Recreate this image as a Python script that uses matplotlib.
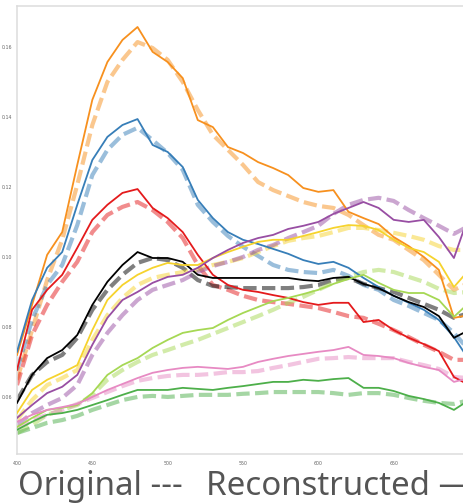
import matplotlib
matplotlib.use("Agg")
import matplotlib.pyplot as plt

# Wavelength samples (nm)
wavelength = [400, 410, 420, 430, 440, 450, 460, 470, 480, 490, 500, 510, 520, 530, 540,
              550, 560, 570, 580, 590, 600, 610, 620, 630, 640, 650, 660, 670, 680, 690, 700]

# Reflectance per patch: original (measured) and reconstructed spectra
orange_orig = [0.0649, 0.0791, 0.0934, 0.1049, 0.1206, 0.1377, 0.1500, 0.1563, 0.1614, 0.1597, 0.1563,
               0.1500, 0.1420, 0.1349, 0.1306, 0.1263, 0.1214, 0.1191, 0.1174, 0.1157, 0.1146, 0.1140,
               0.1120, 0.1091, 0.1063, 0.1049, 0.1020, 0.0991, 0.0949, 0.0906, 0.0926]
orange_rec = [0.0720, 0.0863, 0.1006, 0.1071, 0.1263, 0.1449, 0.1557, 0.1620, 0.1657, 0.1586, 0.1557,
              0.1511, 0.1391, 0.1371, 0.1314, 0.1297, 0.1271, 0.1254, 0.1234, 0.1197, 0.1186, 0.1191,
              0.1129, 0.1111, 0.1094, 0.1057, 0.1031, 0.1000, 0.0963, 0.0826, 0.0834]

blue_orig = [0.0677, 0.0820, 0.0920, 0.0977, 0.1091, 0.1234, 0.1306, 0.1349, 0.1369, 0.1334, 0.1297,
             0.1249, 0.1149, 0.1100, 0.1060, 0.1029, 0.1003, 0.0977, 0.0963, 0.0957, 0.0954, 0.0963,
             0.0946, 0.0920, 0.0906, 0.0877, 0.0860, 0.0840, 0.0820, 0.0783, 0.0734]
blue_rec = [0.0729, 0.0877, 0.0969, 0.1014, 0.1149, 0.1277, 0.1343, 0.1377, 0.1394, 0.1320, 0.1300,
            0.1257, 0.1163, 0.1111, 0.1071, 0.1049, 0.1037, 0.1023, 0.1009, 0.0991, 0.0980, 0.0986,
            0.0969, 0.0940, 0.0914, 0.0889, 0.0869, 0.0849, 0.0820, 0.0771, 0.0706]

red_orig = [0.0634, 0.0777, 0.0863, 0.0929, 0.0986, 0.1071, 0.1120, 0.1143, 0.1157, 0.1134, 0.1100,
            0.1054, 0.0977, 0.0920, 0.0906, 0.0889, 0.0877, 0.0871, 0.0866, 0.0860, 0.0854, 0.0843,
            0.0831, 0.0826, 0.0809, 0.0791, 0.0771, 0.0749, 0.0729, 0.0706, 0.0706]
red_rec = [0.0677, 0.0849, 0.0906, 0.0949, 0.1026, 0.1106, 0.1149, 0.1183, 0.1194, 0.1140, 0.1111,
           0.1071, 0.1006, 0.0949, 0.0920, 0.0906, 0.0900, 0.0891, 0.0883, 0.0871, 0.0863, 0.0869,
           0.0869, 0.0814, 0.0820, 0.0791, 0.0769, 0.0751, 0.0731, 0.0657, 0.0634]

black_orig = [0.0591, 0.0663, 0.0700, 0.0720, 0.0769, 0.0849, 0.0906, 0.0949, 0.0983, 0.0997, 0.0991,
              0.0969, 0.0934, 0.0917, 0.0914, 0.0911, 0.0911, 0.0911, 0.0911, 0.0914, 0.0920, 0.0934,
              0.0940, 0.0923, 0.0911, 0.0900, 0.0883, 0.0866, 0.0849, 0.0826, 0.0840]
black_rec = [0.0583, 0.0663, 0.0711, 0.0734, 0.0777, 0.0863, 0.0929, 0.0977, 0.1014, 0.0997, 0.0997,
             0.0986, 0.0949, 0.0940, 0.0940, 0.0940, 0.0940, 0.0940, 0.0940, 0.0934, 0.0931, 0.0940,
             0.0943, 0.0923, 0.0911, 0.0889, 0.0871, 0.0857, 0.0831, 0.0769, 0.0791]

yellow_orig = [0.0534, 0.0591, 0.0634, 0.0654, 0.0677, 0.0763, 0.0834, 0.0883, 0.0920, 0.0940, 0.0949,
               0.0957, 0.0963, 0.0977, 0.0986, 0.0997, 0.1014, 0.1031, 0.1046, 0.1054, 0.1060, 0.1071,
               0.1083, 0.1083, 0.1077, 0.1069, 0.1060, 0.1049, 0.1031, 0.1020, 0.1020]
yellow_rec = [0.0554, 0.0620, 0.0649, 0.0669, 0.0691, 0.0791, 0.0877, 0.0920, 0.0949, 0.0969, 0.0983,
              0.0977, 0.0977, 0.0997, 0.1014, 0.1029, 0.1043, 0.1049, 0.1049, 0.1060, 0.1071, 0.1083,
              0.1091, 0.1089, 0.1077, 0.1049, 0.1026, 0.1014, 0.0986, 0.0914, 0.0963]

purple_orig = [0.0520, 0.0554, 0.0577, 0.0597, 0.0634, 0.0720, 0.0783, 0.0834, 0.0877, 0.0906, 0.0920,
               0.0934, 0.0957, 0.0974, 0.0986, 0.1000, 0.1020, 0.1034, 0.1054, 0.1071, 0.1089, 0.1123,
               0.1149, 0.1163, 0.1169, 0.1160, 0.1134, 0.1111, 0.1089, 0.1066, 0.1089]
purple_rec = [0.0540, 0.0577, 0.0611, 0.0629, 0.0663, 0.0749, 0.0826, 0.0877, 0.0900, 0.0926, 0.0943,
              0.0949, 0.0969, 0.0997, 0.1020, 0.1040, 0.1054, 0.1063, 0.1080, 0.1089, 0.1100, 0.1123,
              0.1140, 0.1157, 0.1140, 0.1106, 0.1100, 0.1106, 0.1057, 0.0997, 0.1120]

lime_orig = [0.0497, 0.0520, 0.0549, 0.0563, 0.0577, 0.0606, 0.0649, 0.0677, 0.0700, 0.0720, 0.0734,
             0.0749, 0.0763, 0.0780, 0.0797, 0.0814, 0.0831, 0.0849, 0.0869, 0.0886, 0.0906, 0.0926,
             0.0943, 0.0957, 0.0963, 0.0957, 0.0943, 0.0929, 0.0909, 0.0897, 0.0900]
lime_rec = [0.0514, 0.0540, 0.0563, 0.0569, 0.0577, 0.0611, 0.0663, 0.0691, 0.0711, 0.0740, 0.0763,
            0.0783, 0.0791, 0.0797, 0.0820, 0.0840, 0.0857, 0.0874, 0.0883, 0.0894, 0.0906, 0.0923,
            0.0937, 0.0949, 0.0926, 0.0906, 0.0897, 0.0897, 0.0877, 0.0829, 0.0869]

pink_orig = [0.0511, 0.0534, 0.0549, 0.0563, 0.0580, 0.0597, 0.0614, 0.0631, 0.0646, 0.0654, 0.0660,
             0.0663, 0.0663, 0.0666, 0.0671, 0.0671, 0.0674, 0.0683, 0.0691, 0.0700, 0.0709, 0.0711,
             0.0714, 0.0711, 0.0711, 0.0711, 0.0700, 0.0691, 0.0680, 0.0657, 0.0654]
pink_rec = [0.0529, 0.0549, 0.0563, 0.0571, 0.0580, 0.0600, 0.0620, 0.0637, 0.0654, 0.0669, 0.0677,
            0.0683, 0.0686, 0.0683, 0.0680, 0.0686, 0.0700, 0.0709, 0.0717, 0.0723, 0.0729, 0.0734,
            0.0743, 0.0720, 0.0717, 0.0711, 0.0697, 0.0686, 0.0677, 0.0643, 0.0654]

green_orig = [0.0497, 0.0511, 0.0526, 0.0534, 0.0546, 0.0563, 0.0577, 0.0591, 0.0600, 0.0603, 0.0600,
              0.0603, 0.0606, 0.0606, 0.0606, 0.0609, 0.0611, 0.0614, 0.0614, 0.0614, 0.0614, 0.0611,
              0.0606, 0.0611, 0.0611, 0.0606, 0.0597, 0.0589, 0.0583, 0.0580, 0.0591]
green_rec = [0.0506, 0.0529, 0.0549, 0.0554, 0.0563, 0.0577, 0.0591, 0.0606, 0.0620, 0.0620, 0.0620,
             0.0626, 0.0623, 0.0620, 0.0626, 0.0631, 0.0637, 0.0643, 0.0643, 0.0649, 0.0646, 0.0651,
             0.0654, 0.0626, 0.0626, 0.0617, 0.0603, 0.0594, 0.0583, 0.0563, 0.0591]

x_ticks = [400, 450, 500, 550, 600, 650]
y_ticks = [0.06, 0.08, 0.10, 0.12, 0.14, 0.16]

patches = [
    ("#f7901e", orange_orig, orange_rec),
    ("#377eb8", blue_orig, blue_rec),
    ("#e41a1c", red_orig, red_rec),
    ("#000000", black_orig, black_rec),
    ("#f6d32d", yellow_orig, yellow_rec),
    ("#984ea3", purple_orig, purple_rec),
    ("#a6d854", lime_orig, lime_rec),
    ("#e78ac3", pink_orig, pink_rec),
    ("#4daf4a", green_orig, green_rec),
]

W, H = 464, 503
fig = plt.figure(figsize=(W / 100, H / 100), dpi=100)
ax = fig.add_axes([17 / W, 1 - 454 / H, (469 - 17) / W, (454 - 6) / H])

for color, orig, rec in patches:
    ax.plot(wavelength, orig, color=color, alpha=0.5, lw=3.0,
            linestyle=(0, (3.2, 1.3)), zorder=2)
for color, orig, rec in patches:
    ax.plot(wavelength, rec, color=color, lw=1.3, zorder=3)

ax.set_xlim(400, 700)
ax.set_ylim(0.0437, 0.1717)
ax.set_xticks(x_ticks)
ax.set_yticks(y_ticks)
ax.set_xticklabels([str(v) for v in x_ticks])
ax.set_yticklabels([f"{v:.2f}" for v in y_ticks])
ax.tick_params(length=0, labelsize=3.4, labelcolor="#666666")
ax.tick_params(axis="y", pad=3.5)
ax.tick_params(axis="x", pad=5)
for side in ax.spines.values():
    side.set_color("#dcdcdc")
    side.set_linewidth(1.1)

cap = dict(fontsize=23.8, color="#555555", family=["Noto Sans", "DejaVu Sans"], va="baseline")
fig.text(18 / W, 1 - 495 / H, "Original ---", **cap)
fig.text(206 / W, 1 - 495 / H, "Reconstructed \u2014", **cap)

fig.savefig("out.png", dpi=100)
